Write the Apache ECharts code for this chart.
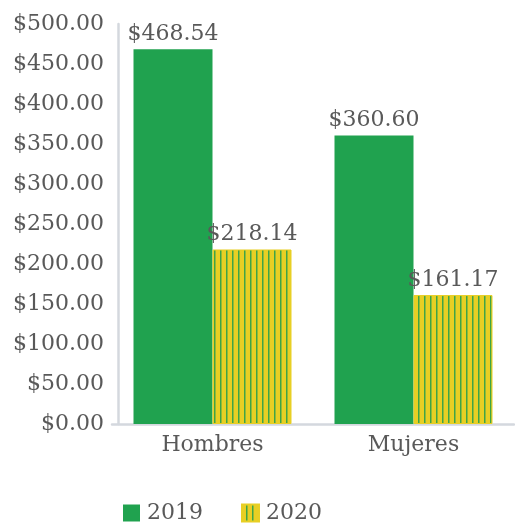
<!DOCTYPE html>
<html>
<head>
<meta charset="utf-8">
<script src="https://cdn.jsdelivr.net/npm/echarts@6/dist/echarts.min.js"></script>
<style>
  html, body { margin: 0; padding: 0; background: #ffffff; }
  #chart { width: 515px; height: 525px; }
</style>
</head>
<body>
<div id="chart"></div>
<script>
// Categories and yearly values
const categories = ['Hombres', 'Mujeres'];
const years = ['2019', '2020'];
const values2019 = [468.54, 360.60];
const values2020 = [218.14, 161.17];
const yTicks = { min: 0, max: 500, interval: 50 };

const GREEN = '#20a24f';
const YELLOW = '#e8cf24';
const TEXT = '#595959';
const FONT = 'DejaVu Serif';

// Yellow fill with thin green vertical stripes
function stripePattern(step) {
  const c = document.createElement('canvas');
  c.width = step; c.height = 8;
  const ctx = c.getContext('2d');
  ctx.fillStyle = YELLOW;
  ctx.fillRect(0, 0, step, 8);
  ctx.fillStyle = '#3fa447';
  ctx.fillRect(step - 2, 0, 1.5, 8);
  return c;
}

const money = v => '$' + v.toFixed(2);

const chart = echarts.init(document.getElementById('chart'), null, { renderer: 'canvas' });

chart.setOption({
  animation: false,
  textStyle: { fontFamily: FONT, color: TEXT },
  grid: { left: 112, top: 24, width: 402, height: 400, containLabel: false },
  xAxis: {
    type: 'category',
    data: categories,
    axisLine: { show: true, lineStyle: { color: '#d4d8de', width: 2.5 } },
    axisTick: { show: false },
    axisLabel: { color: TEXT, fontFamily: FONT, fontSize: 22, margin: 10 }
  },
  yAxis: {
    type: 'value',
    min: yTicks.min, max: yTicks.max, interval: yTicks.interval,
    offset: -6,
    axisLine: { show: true, lineStyle: { color: '#d4d8de', width: 2.5 } },
    axisTick: { show: false },
    splitLine: { show: false },
    axisLabel: { color: TEXT, fontFamily: FONT, fontSize: 22, margin: 14, formatter: v => money(v) }
  },
  legend: {
    top: 497, left: 118,
    icon: 'rect',
    itemWidth: 17, itemHeight: 17, itemGap: 38,
    textStyle: { color: TEXT, fontFamily: FONT, fontSize: 22, padding: [0, 0, 0, 2] },
    data: years
  },
  series: [
    {
      name: years[0], type: 'bar', data: values2019,
      barWidth: 79, barGap: '0%',
      itemStyle: { color: GREEN },
      label: { show: true, position: 'top', distance: 4, color: TEXT, fontFamily: FONT, fontSize: 22, formatter: p => money(p.value) }
    },
    {
      name: years[1], type: 'bar', data: values2020,
      barWidth: 79, barGap: '0%',
      itemStyle: { color: { image: stripePattern(6), repeat: 'repeat' }, borderColor: YELLOW, borderWidth: 1 },
      label: { show: true, position: 'top', distance: 4, color: TEXT, fontFamily: FONT, fontSize: 22, formatter: p => money(p.value) }
    }
  ]
});
</script>
</body>
</html>
